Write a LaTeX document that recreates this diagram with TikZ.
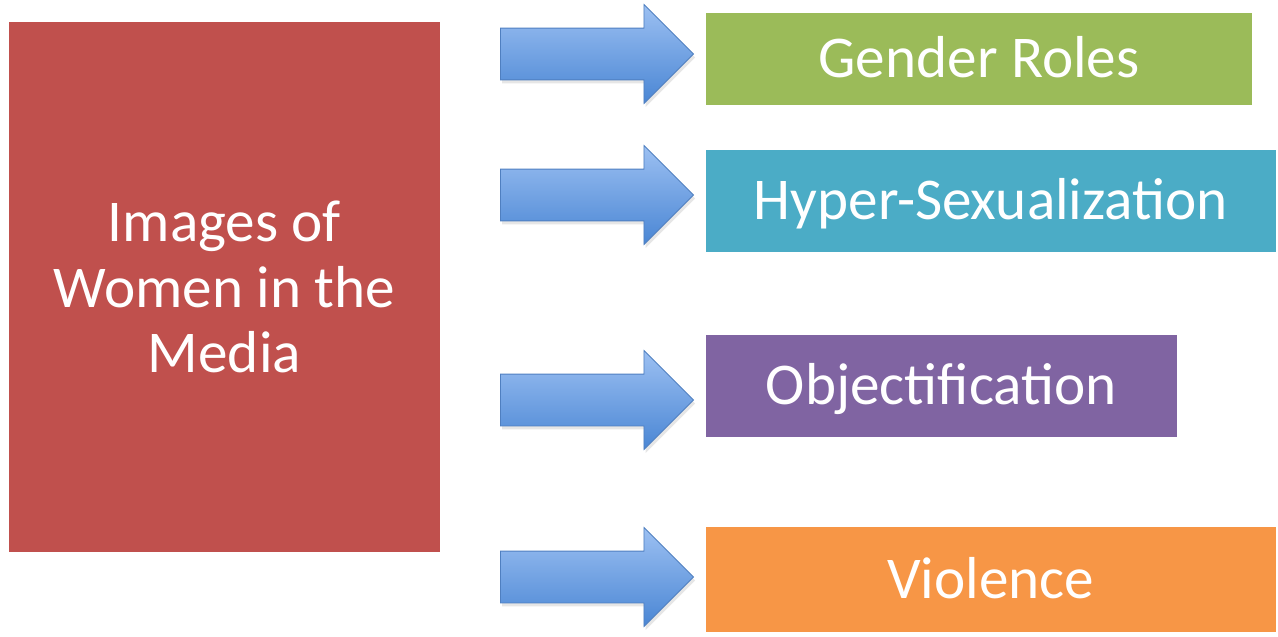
\documentclass[tikz,border=0pt]{standalone}
\usepackage{fontspec}
\setmainfont{Carlito}
\usetikzlibrary{shapes.arrows,shadows,positioning}

\definecolor{mediared}{HTML}{C0504D}
\definecolor{rolegreen}{HTML}{9BBB59}
\definecolor{sexcyan}{HTML}{4BACC6}
\definecolor{objpurple}{HTML}{8064A2}
\definecolor{violorange}{HTML}{F79646}
\definecolor{arrowtop}{HTML}{9CC0F2}
\definecolor{arrowbot}{HTML}{4A86D4}
\definecolor{arrowline}{HTML}{4F7FC0}

\begin{document}
\begin{tikzpicture}[x=0.02cm,y=-0.02cm,
    box/.style={rectangle,inner sep=0pt,outer sep=0pt,anchor=north west,
      text=white,font=\fontsize{33.7}{37.2}\selectfont},
    topic/.style={box,text height=21.5pt,text depth=0pt},
    fat arrow/.style={single arrow,anchor=tail,inner xsep=0pt,inner ysep=0.51cm,
      minimum width=1.96cm,minimum height=3.86cm,
      single arrow head extend=0.47cm,draw=arrowline,line width=0.5pt,
      top color=arrowtop,bottom color=arrowbot,
      drop shadow={opacity=0.2,shadow xshift=1pt,shadow yshift=-2pt}}]
	   \useasboundingbox (0,0) rectangle (1278,636);
	   \node[box,fill=mediared,minimum width=8.62cm,minimum height=10.6cm,
	         align=center] (m_0) at (9,22) {Images of\\Women in the\\Media};
	   \node[topic,fill=rolegreen,minimum width=10.92cm,minimum height=1.84cm]
	         (t_1) at (706,13) {Gender Roles};
	   \node[topic,fill=sexcyan,minimum width=11.4cm,minimum height=2.04cm]
	         (t_2) at (706,150) {Hyper-Sexualization};
	   \node[topic,fill=objpurple,minimum width=9.42cm,minimum height=2.04cm]
	         (t_3) at (706,335) {Objectification};
	   \node[topic,fill=violorange,minimum width=11.4cm,minimum height=2.1cm]
	         (t_4) at (706,527) {Violence};
	   \node[fat arrow] (a_1) at (500,54) {};
	   \node[fat arrow] (a_2) at (500,195) {};
	   \node[fat arrow] (a_3) at (500,400) {};
	   \node[fat arrow] (a_4) at (500,577) {};
	\end{tikzpicture}
\end{document}
